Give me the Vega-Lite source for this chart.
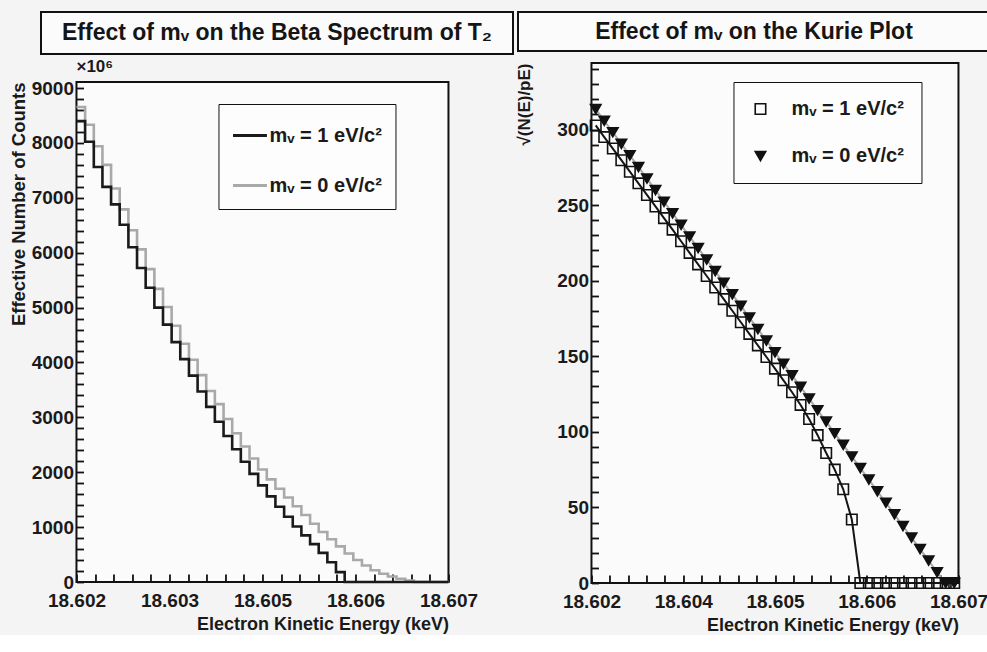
{
  "$schema": "https://vega.github.io/schema/vega-lite/v6.json",
  "background": "#f4f4f4",
  "padding": {"left": 8, "top": 9, "right": 0, "bottom": 0},
  "config": {
    "font": "Liberation Sans",
    "view": {"stroke": "#111", "strokeWidth": 2, "fill": "#fbfbfb"},
    "axis": {
      "domain": false, "grid": false, "ticks": true, "tickColor": "#111", "tickWidth": 1.8, "zindex": 1,
      "labelFont": "Liberation Sans", "labelFontWeight": "bold", "labelFontSize": 19, "labelColor": "#1a1a1a",
      "titleFont": "Liberation Sans", "titleFontWeight": "bold", "titleFontSize": 18, "titleColor": "#1a1a1a",
      "labelOverlap": false, "labelFlush": false, "labelBound": false, "titleAnchor": "end"
    },
    "legend": {
      "labelFont": "Liberation Sans", "labelFontWeight": "bold", "labelFontSize": 20, "labelColor": "#1a1a1a",
      "strokeColor": "#111", "fillColor": "#fdfdfd", "cornerRadius": 0, "orient": "none", "title": null
    }
  },
  "datasets": {
    "hist": [
      {"E": 18.602000, "counts": 8655, "series": "mᵥ = 0 eV/c²"},
      {"E": 18.602116, "counts": 8330, "series": "mᵥ = 0 eV/c²"},
      {"E": 18.602233, "counts": 7940, "series": "mᵥ = 0 eV/c²"},
      {"E": 18.602349, "counts": 7600, "series": "mᵥ = 0 eV/c²"},
      {"E": 18.602465, "counts": 7170, "series": "mᵥ = 0 eV/c²"},
      {"E": 18.602581, "counts": 6790, "series": "mᵥ = 0 eV/c²"},
      {"E": 18.602698, "counts": 6410, "series": "mᵥ = 0 eV/c²"},
      {"E": 18.602814, "counts": 6060, "series": "mᵥ = 0 eV/c²"},
      {"E": 18.602930, "counts": 5700, "series": "mᵥ = 0 eV/c²"},
      {"E": 18.603047, "counts": 5340, "series": "mᵥ = 0 eV/c²"},
      {"E": 18.603163, "counts": 5010, "series": "mᵥ = 0 eV/c²"},
      {"E": 18.603279, "counts": 4670, "series": "mᵥ = 0 eV/c²"},
      {"E": 18.603395, "counts": 4340, "series": "mᵥ = 0 eV/c²"},
      {"E": 18.603512, "counts": 4050, "series": "mᵥ = 0 eV/c²"},
      {"E": 18.603628, "counts": 3770, "series": "mᵥ = 0 eV/c²"},
      {"E": 18.603744, "counts": 3480, "series": "mᵥ = 0 eV/c²"},
      {"E": 18.603860, "counts": 3240, "series": "mᵥ = 0 eV/c²"},
      {"E": 18.603977, "counts": 2970, "series": "mᵥ = 0 eV/c²"},
      {"E": 18.604093, "counts": 2710, "series": "mᵥ = 0 eV/c²"},
      {"E": 18.604209, "counts": 2470, "series": "mᵥ = 0 eV/c²"},
      {"E": 18.604326, "counts": 2250, "series": "mᵥ = 0 eV/c²"},
      {"E": 18.604442, "counts": 2050, "series": "mᵥ = 0 eV/c²"},
      {"E": 18.604558, "counts": 1870, "series": "mᵥ = 0 eV/c²"},
      {"E": 18.604674, "counts": 1700, "series": "mᵥ = 0 eV/c²"},
      {"E": 18.604791, "counts": 1540, "series": "mᵥ = 0 eV/c²"},
      {"E": 18.604907, "counts": 1380, "series": "mᵥ = 0 eV/c²"},
      {"E": 18.605023, "counts": 1220, "series": "mᵥ = 0 eV/c²"},
      {"E": 18.605140, "counts": 1060, "series": "mᵥ = 0 eV/c²"},
      {"E": 18.605256, "counts": 910, "series": "mᵥ = 0 eV/c²"},
      {"E": 18.605372, "counts": 780, "series": "mᵥ = 0 eV/c²"},
      {"E": 18.605488, "counts": 650, "series": "mᵥ = 0 eV/c²"},
      {"E": 18.605605, "counts": 520, "series": "mᵥ = 0 eV/c²"},
      {"E": 18.605721, "counts": 400, "series": "mᵥ = 0 eV/c²"},
      {"E": 18.605837, "counts": 300, "series": "mᵥ = 0 eV/c²"},
      {"E": 18.605953, "counts": 215, "series": "mᵥ = 0 eV/c²"},
      {"E": 18.606070, "counts": 150, "series": "mᵥ = 0 eV/c²"},
      {"E": 18.606186, "counts": 100, "series": "mᵥ = 0 eV/c²"},
      {"E": 18.606302, "counts": 60, "series": "mᵥ = 0 eV/c²"},
      {"E": 18.606419, "counts": 25, "series": "mᵥ = 0 eV/c²"},
      {"E": 18.606535, "counts": 0, "series": "mᵥ = 0 eV/c²"},
      {"E": 18.606651, "counts": 0, "series": "mᵥ = 0 eV/c²"},
      {"E": 18.606767, "counts": 0, "series": "mᵥ = 0 eV/c²"},
      {"E": 18.606884, "counts": 0, "series": "mᵥ = 0 eV/c²"},
      {"E": 18.607000, "counts": 0, "series": "mᵥ = 0 eV/c²"},
      {"E": 18.602000, "counts": 8400, "series": "mᵥ = 1 eV/c²"},
      {"E": 18.602116, "counts": 8020, "series": "mᵥ = 1 eV/c²"},
      {"E": 18.602233, "counts": 7560, "series": "mᵥ = 1 eV/c²"},
      {"E": 18.602349, "counts": 7200, "series": "mᵥ = 1 eV/c²"},
      {"E": 18.602465, "counts": 6880, "series": "mᵥ = 1 eV/c²"},
      {"E": 18.602581, "counts": 6510, "series": "mᵥ = 1 eV/c²"},
      {"E": 18.602698, "counts": 6100, "series": "mᵥ = 1 eV/c²"},
      {"E": 18.602814, "counts": 5720, "series": "mᵥ = 1 eV/c²"},
      {"E": 18.602930, "counts": 5360, "series": "mᵥ = 1 eV/c²"},
      {"E": 18.603047, "counts": 5000, "series": "mᵥ = 1 eV/c²"},
      {"E": 18.603163, "counts": 4690, "series": "mᵥ = 1 eV/c²"},
      {"E": 18.603279, "counts": 4370, "series": "mᵥ = 1 eV/c²"},
      {"E": 18.603395, "counts": 4060, "series": "mᵥ = 1 eV/c²"},
      {"E": 18.603512, "counts": 3760, "series": "mᵥ = 1 eV/c²"},
      {"E": 18.603628, "counts": 3470, "series": "mᵥ = 1 eV/c²"},
      {"E": 18.603744, "counts": 3190, "series": "mᵥ = 1 eV/c²"},
      {"E": 18.603860, "counts": 2920, "series": "mᵥ = 1 eV/c²"},
      {"E": 18.603977, "counts": 2660, "series": "mᵥ = 1 eV/c²"},
      {"E": 18.604093, "counts": 2420, "series": "mᵥ = 1 eV/c²"},
      {"E": 18.604209, "counts": 2190, "series": "mᵥ = 1 eV/c²"},
      {"E": 18.604326, "counts": 1970, "series": "mᵥ = 1 eV/c²"},
      {"E": 18.604442, "counts": 1760, "series": "mᵥ = 1 eV/c²"},
      {"E": 18.604558, "counts": 1560, "series": "mᵥ = 1 eV/c²"},
      {"E": 18.604674, "counts": 1370, "series": "mᵥ = 1 eV/c²"},
      {"E": 18.604791, "counts": 1190, "series": "mᵥ = 1 eV/c²"},
      {"E": 18.604907, "counts": 1010, "series": "mᵥ = 1 eV/c²"},
      {"E": 18.605023, "counts": 850, "series": "mᵥ = 1 eV/c²"},
      {"E": 18.605140, "counts": 690, "series": "mᵥ = 1 eV/c²"},
      {"E": 18.605256, "counts": 530, "series": "mᵥ = 1 eV/c²"},
      {"E": 18.605372, "counts": 360, "series": "mᵥ = 1 eV/c²"},
      {"E": 18.605488, "counts": 180, "series": "mᵥ = 1 eV/c²"},
      {"E": 18.605605, "counts": 0, "series": "mᵥ = 1 eV/c²"},
      {"E": 18.607000, "counts": 0, "series": "mᵥ = 1 eV/c²"}
    ],
    "kurie": [
      {"E": 18.602058, "K": 313.5, "series": "mᵥ = 0 eV/c²"},
      {"E": 18.602174, "K": 305.8, "series": "mᵥ = 0 eV/c²"},
      {"E": 18.602291, "K": 298.2, "series": "mᵥ = 0 eV/c²"},
      {"E": 18.602407, "K": 290.5, "series": "mᵥ = 0 eV/c²"},
      {"E": 18.602523, "K": 282.9, "series": "mᵥ = 0 eV/c²"},
      {"E": 18.602640, "K": 275.2, "series": "mᵥ = 0 eV/c²"},
      {"E": 18.602756, "K": 267.5, "series": "mᵥ = 0 eV/c²"},
      {"E": 18.602872, "K": 259.9, "series": "mᵥ = 0 eV/c²"},
      {"E": 18.602988, "K": 252.2, "series": "mᵥ = 0 eV/c²"},
      {"E": 18.603105, "K": 244.6, "series": "mᵥ = 0 eV/c²"},
      {"E": 18.603221, "K": 236.9, "series": "mᵥ = 0 eV/c²"},
      {"E": 18.603337, "K": 229.2, "series": "mᵥ = 0 eV/c²"},
      {"E": 18.603453, "K": 221.6, "series": "mᵥ = 0 eV/c²"},
      {"E": 18.603570, "K": 213.9, "series": "mᵥ = 0 eV/c²"},
      {"E": 18.603686, "K": 206.3, "series": "mᵥ = 0 eV/c²"},
      {"E": 18.603802, "K": 198.6, "series": "mᵥ = 0 eV/c²"},
      {"E": 18.603919, "K": 190.9, "series": "mᵥ = 0 eV/c²"},
      {"E": 18.604035, "K": 183.3, "series": "mᵥ = 0 eV/c²"},
      {"E": 18.604151, "K": 175.6, "series": "mᵥ = 0 eV/c²"},
      {"E": 18.604267, "K": 168.0, "series": "mᵥ = 0 eV/c²"},
      {"E": 18.604384, "K": 160.3, "series": "mᵥ = 0 eV/c²"},
      {"E": 18.604500, "K": 152.6, "series": "mᵥ = 0 eV/c²"},
      {"E": 18.604616, "K": 145.0, "series": "mᵥ = 0 eV/c²"},
      {"E": 18.604733, "K": 137.3, "series": "mᵥ = 0 eV/c²"},
      {"E": 18.604849, "K": 129.7, "series": "mᵥ = 0 eV/c²"},
      {"E": 18.604965, "K": 122.0, "series": "mᵥ = 0 eV/c²"},
      {"E": 18.605081, "K": 114.3, "series": "mᵥ = 0 eV/c²"},
      {"E": 18.605198, "K": 106.7, "series": "mᵥ = 0 eV/c²"},
      {"E": 18.605314, "K": 99.0, "series": "mᵥ = 0 eV/c²"},
      {"E": 18.605430, "K": 91.4, "series": "mᵥ = 0 eV/c²"},
      {"E": 18.605547, "K": 83.7, "series": "mᵥ = 0 eV/c²"},
      {"E": 18.605663, "K": 76.0, "series": "mᵥ = 0 eV/c²"},
      {"E": 18.605779, "K": 68.4, "series": "mᵥ = 0 eV/c²"},
      {"E": 18.605895, "K": 60.7, "series": "mᵥ = 0 eV/c²"},
      {"E": 18.606012, "K": 53.1, "series": "mᵥ = 0 eV/c²"},
      {"E": 18.606128, "K": 45.4, "series": "mᵥ = 0 eV/c²"},
      {"E": 18.606244, "K": 37.7, "series": "mᵥ = 0 eV/c²"},
      {"E": 18.606360, "K": 30.1, "series": "mᵥ = 0 eV/c²"},
      {"E": 18.606477, "K": 22.4, "series": "mᵥ = 0 eV/c²"},
      {"E": 18.606593, "K": 14.8, "series": "mᵥ = 0 eV/c²"},
      {"E": 18.606709, "K": 7.1, "series": "mᵥ = 0 eV/c²"},
      {"E": 18.606826, "K": 0, "series": "mᵥ = 0 eV/c²"},
      {"E": 18.606942, "K": 0, "series": "mᵥ = 0 eV/c²"},
      {"E": 18.602058, "K": 302.7, "series": "mᵥ = 1 eV/c²"},
      {"E": 18.602174, "K": 295.0, "series": "mᵥ = 1 eV/c²"},
      {"E": 18.602291, "K": 287.4, "series": "mᵥ = 1 eV/c²"},
      {"E": 18.602407, "K": 279.7, "series": "mᵥ = 1 eV/c²"},
      {"E": 18.602523, "K": 272.1, "series": "mᵥ = 1 eV/c²"},
      {"E": 18.602640, "K": 264.4, "series": "mᵥ = 1 eV/c²"},
      {"E": 18.602756, "K": 256.7, "series": "mᵥ = 1 eV/c²"},
      {"E": 18.602872, "K": 249.1, "series": "mᵥ = 1 eV/c²"},
      {"E": 18.602988, "K": 241.4, "series": "mᵥ = 1 eV/c²"},
      {"E": 18.603105, "K": 233.8, "series": "mᵥ = 1 eV/c²"},
      {"E": 18.603221, "K": 226.1, "series": "mᵥ = 1 eV/c²"},
      {"E": 18.603337, "K": 218.4, "series": "mᵥ = 1 eV/c²"},
      {"E": 18.603453, "K": 210.8, "series": "mᵥ = 1 eV/c²"},
      {"E": 18.603570, "K": 203.1, "series": "mᵥ = 1 eV/c²"},
      {"E": 18.603686, "K": 195.5, "series": "mᵥ = 1 eV/c²"},
      {"E": 18.603802, "K": 187.8, "series": "mᵥ = 1 eV/c²"},
      {"E": 18.603919, "K": 180.1, "series": "mᵥ = 1 eV/c²"},
      {"E": 18.604035, "K": 172.5, "series": "mᵥ = 1 eV/c²"},
      {"E": 18.604151, "K": 164.8, "series": "mᵥ = 1 eV/c²"},
      {"E": 18.604267, "K": 157.2, "series": "mᵥ = 1 eV/c²"},
      {"E": 18.604384, "K": 149.5, "series": "mᵥ = 1 eV/c²"},
      {"E": 18.604500, "K": 141.8, "series": "mᵥ = 1 eV/c²"},
      {"E": 18.604616, "K": 134.1, "series": "mᵥ = 1 eV/c²"},
      {"E": 18.604733, "K": 126.2, "series": "mᵥ = 1 eV/c²"},
      {"E": 18.604849, "K": 117.8, "series": "mᵥ = 1 eV/c²"},
      {"E": 18.604965, "K": 108.5, "series": "mᵥ = 1 eV/c²"},
      {"E": 18.605081, "K": 97.8, "series": "mᵥ = 1 eV/c²"},
      {"E": 18.605198, "K": 86.0, "series": "mᵥ = 1 eV/c²"},
      {"E": 18.605314, "K": 75.0, "series": "mᵥ = 1 eV/c²"},
      {"E": 18.605430, "K": 62.0, "series": "mᵥ = 1 eV/c²"},
      {"E": 18.605547, "K": 42.0, "series": "mᵥ = 1 eV/c²"},
      {"E": 18.605663, "K": 0, "series": "mᵥ = 1 eV/c²"},
      {"E": 18.605779, "K": 0, "series": "mᵥ = 1 eV/c²"},
      {"E": 18.605895, "K": 0, "series": "mᵥ = 1 eV/c²"},
      {"E": 18.606012, "K": 0, "series": "mᵥ = 1 eV/c²"},
      {"E": 18.606128, "K": 0, "series": "mᵥ = 1 eV/c²"},
      {"E": 18.606244, "K": 0, "series": "mᵥ = 1 eV/c²"},
      {"E": 18.606360, "K": 0, "series": "mᵥ = 1 eV/c²"},
      {"E": 18.606477, "K": 0, "series": "mᵥ = 1 eV/c²"},
      {"E": 18.606593, "K": 0, "series": "mᵥ = 1 eV/c²"},
      {"E": 18.606709, "K": 0, "series": "mᵥ = 1 eV/c²"},
      {"E": 18.606826, "K": 0, "series": "mᵥ = 1 eV/c²"},
      {"E": 18.606942, "K": 0, "series": "mᵥ = 1 eV/c²"}
    ]
  },
  "spacing": 0,
  "resolve": {"scale": {"color": "independent", "stroke": "independent", "shape": "independent"}, "legend": {"color": "independent", "stroke": "independent", "shape": "independent"}},
  "hconcat": [
    {
      "spacing": 2,
      "center": true,
      "resolve": {"scale": {"color": "independent"}, "legend": {"color": "independent"}},
      "vconcat": [
        {
          "width": 472, "height": 42,
          "data": {"values": [{"t": "Effect of mᵥ on the Beta Spectrum of T₂"}]},
          "mark": {"type": "text", "fontWeight": "bold", "fontSize": 23, "color": "#151515"},
          "encoding": {
            "x": {"datum": 0.5, "type": "quantitative", "scale": {"domain": [0, 1]}, "axis": null},
            "y": {"datum": 0.5, "type": "quantitative", "scale": {"domain": [0, 1]}, "axis": null},
            "text": {"field": "t"}
          }
        },
        {
          "width": 372, "height": 500,
          "title": {"text": "×10⁶", "anchor": "start", "frame": "group", "fontSize": 17, "fontWeight": "bold", "color": "#1a1a1a", "offset": 3},
          "data": {"name": "hist"},
          "mark": {"type": "line", "interpolate": "step-after", "strokeWidth": 2.6},
          "encoding": {
            "x": {
              "field": "E", "type": "quantitative",
              "scale": {"domain": [18.602, 18.607], "nice": false, "zero": false},
              "axis": {
                "title": "Electron Kinetic Energy (keV)",
                "values": [18.602, 18.60225, 18.6025, 18.60275, 18.603, 18.60325, 18.6035, 18.60375, 18.604, 18.60425, 18.6045, 18.60475, 18.605, 18.60525, 18.6055, 18.60575, 18.606, 18.60625, 18.6065, 18.60675, 18.607],
                "labelExpr": "indexof([18.602,18.60325,18.6045,18.60575,18.607], datum.value) >= 0 ? format(datum.value + 0.0000001, '.3f') : ''",
                "offset": -8, "tickSize": 8,
                "labelPadding": 9, "titlePadding": 5
              }
            },
            "y": {
              "field": "counts", "type": "quantitative",
              "scale": {"domain": [0, 9110], "nice": false},
              "axis": {
                "title": "Effective Number of Counts", "titleFontSize": 18.5,
                "values": [0,200,400,600,800,1000,1200,1400,1600,1800,2000,2200,2400,2600,2800,3000,3200,3400,3600,3800,4000,4200,4400,4600,4800,5000,5200,5400,5600,5800,6000,6200,6400,6600,6800,7000,7200,7400,7600,7800,8000,8200,8400,8600,8800,9000],
                "labelExpr": "datum.value % 1000 == 0 ? format(datum.value, 'd') : ''",
                "offset": -7, "tickSize": 7,
                "labelPadding": 3, "titlePadding": 3
              }
            },
            "color": {
              "field": "series", "type": "nominal",
              "scale": {"domain": ["mᵥ = 1 eV/c²", "mᵥ = 0 eV/c²"], "range": ["#1a1a1a", "#a9a9a9"]},
              "legend": {"legendX": 142, "legendY": 22, "symbolType": "stroke", "symbolSize": 1150, "symbolStrokeWidth": 3, "padding": 13, "rowPadding": 21, "symbolOffset": 0, "labelOffset": 1}
            }
          }
        }
      ]
    },
    {
      "spacing": 7,
      "center": true,
      "resolve": {"scale": {"color": "independent", "stroke": "independent", "shape": "independent"}, "legend": {"color": "independent", "stroke": "independent", "shape": "independent"}},
      "vconcat": [
        {
          "width": 472, "height": 39,
          "data": {"values": [{"t": "Effect of mᵥ on the Kurie Plot"}]},
          "mark": {"type": "text", "fontWeight": "bold", "fontSize": 23, "color": "#151515"},
          "encoding": {
            "x": {"datum": 0.5, "type": "quantitative", "scale": {"domain": [0, 1]}, "axis": null},
            "y": {"datum": 0.5, "type": "quantitative", "scale": {"domain": [0, 1]},
                  "axis": {"orient": "right", "title": ".", "titleFontSize": 4, "titleOpacity": 0, "titlePadding": 67, "labels": false, "ticks": false, "domain": false, "grid": false}},
            "text": {"field": "t"}
          }
        },
        {
          "width": 367, "height": 520,
          "data": {"name": "kurie"},
          "resolve": {"legend": {"shape": "independent", "color": "independent"}},
          "encoding": {
            "x": {
              "field": "E", "type": "quantitative",
              "scale": {"domain": [18.602, 18.607], "nice": false, "zero": false},
              "axis": {
                "title": "Electron Kinetic Energy (keV)",
                "values": [18.602, 18.60225, 18.6025, 18.60275, 18.603, 18.60325, 18.6035, 18.60375, 18.604, 18.60425, 18.6045, 18.60475, 18.605, 18.60525, 18.6055, 18.60575, 18.606, 18.60625, 18.6065, 18.60675, 18.607],
                "labelExpr": "indexof([18.602,18.60325,18.6045,18.60575,18.607], datum.value) < 0 ? '' : datum.value < 18.603 ? '18.602' : datum.value < 18.604 ? '18.604' : datum.value < 18.605 ? '18.605' : datum.value < 18.6065 ? '18.606' : '18.607'",
                "offset": -8, "tickSize": 8,
                "labelPadding": 9, "titlePadding": 5
              }
            },
            "y": {
              "field": "K", "type": "quantitative",
              "scale": {"domain": [0, 344], "nice": false},
              "axis": {
                "title": "√(N(E)/pE)", "titleFontSize": 17,
                "values": [0,10,20,30,40,50,60,70,80,90,100,110,120,130,140,150,160,170,180,190,200,210,220,230,240,250,260,270,280,290,300,310,320,330,340],
                "labelExpr": "datum.value % 50 == 0 ? format(datum.value, 'd') : ''",
                "offset": -7, "tickSize": 7,
                "labelPadding": 3, "titlePadding": 23
              }
            }
          },
          "layer": [
            {
              "mark": {"type": "line", "strokeWidth": 2},
              "encoding": {
                "stroke": {
                  "field": "series", "type": "nominal",
                  "scale": {"domain": ["mᵥ = 1 eV/c²", "mᵥ = 0 eV/c²"], "range": ["#151515", "#a9a9a9"]},
                  "legend": null
                }
              }
            },
            {
              "mark": {"type": "point", "filled": true, "stroke": "#111", "strokeWidth": 1.6, "size": 110, "opacity": 1},
              "encoding": {
                "shape": {
                  "field": "series", "type": "nominal",
                  "scale": {"domain": ["mᵥ = 1 eV/c²", "mᵥ = 0 eV/c²"], "range": ["square", "triangle-down"]},
                  "legend": {"legendX": 142, "legendY": 19, "padding": 17, "rowPadding": 27, "symbolSize": 110, "symbolStrokeColor": "#111", "symbolStrokeWidth": 1.6, "labelOffset": 21}
                },
                "color": {
                  "field": "series", "type": "nominal",
                  "scale": {"domain": ["mᵥ = 1 eV/c²", "mᵥ = 0 eV/c²"], "range": ["transparent", "#111"]},
                  "legend": {"legendX": 142, "legendY": 19, "padding": 17, "rowPadding": 27, "symbolSize": 110, "symbolStrokeColor": "#111", "symbolStrokeWidth": 1.6, "labelOffset": 21}
                }
              }
            }
          ]
        }
      ]
    }
  ]
}
